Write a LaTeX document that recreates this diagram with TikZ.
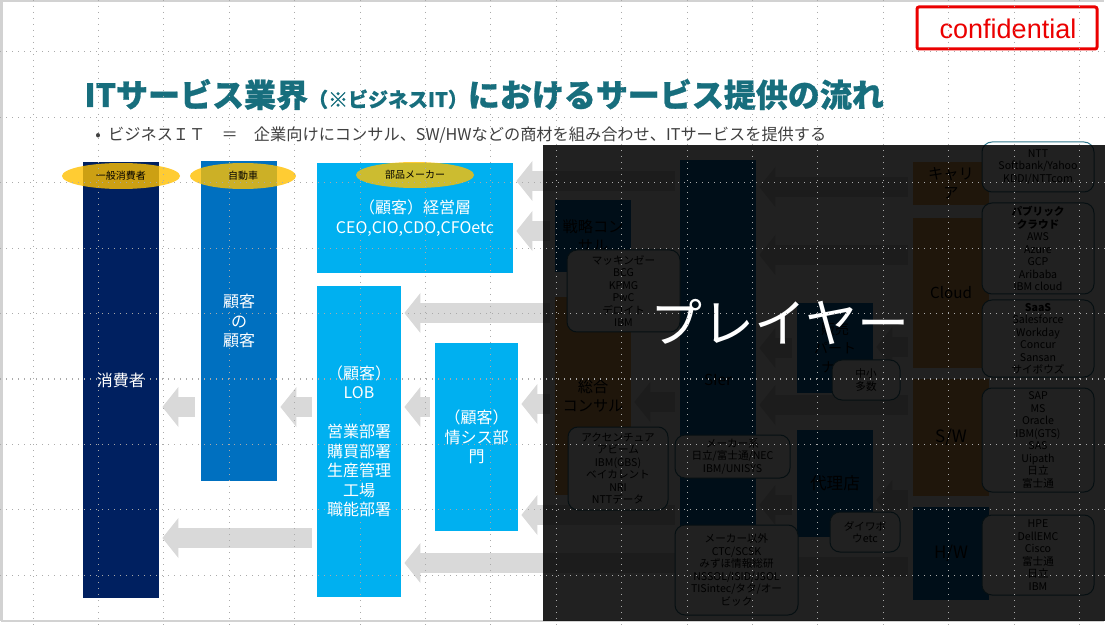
\documentclass[tikz,border=0pt]{standalone}
\usepackage{fontspec}
\setmainfont{Noto Sans CJK JP}
\newfontfamily\titlefont{Noto Sans CJK JP}[BoldFeatures={FakeBold=0.8}]
\newfontfamily\latinfont{Liberation Sans}
\usetikzlibrary{positioning, shapes.geometric, arrows.meta}

\definecolor{navy}{RGB}{0,32,96}
\definecolor{midblue}{RGB}{0,112,192}
\definecolor{skyblue}{RGB}{0,176,240}
\definecolor{gold}{RGB}{255,192,0}
\definecolor{tangerine}{RGB}{240,170,90}
\definecolor{titleteal}{RGB}{23,110,125}
\definecolor{arrowgray}{RGB}{217,217,217}
\definecolor{gridgray}{RGB}{170,170,170}
\definecolor{memoedge}{RGB}{50,120,140}
\definecolor{confred}{RGB}{235,0,0}

\tikzset{
  bar/.style={rectangle, inner sep=0pt, minimum width=38pt, align=center, text=white, font=\fontsize{8}{9.75}\selectfont},
  tag/.style={ellipse, fill=gold, fill opacity=0.8, text opacity=1, inner sep=0pt, minimum height=13pt, font=\fontsize{5}{6}\selectfont},
  lane/.style={rectangle, inner sep=0pt, minimum width=38pt, align=center, text=black, font=\fontsize{7.6}{9.5}\selectfont},
  memo/.style={draw=memoedge, line width=0.5pt, rounded corners=5pt, fill=white, inner sep=0pt, align=center, text=black, font=\fontsize{5.3}{6.25}\selectfont},
  flow/.style={draw=arrowgray, line width=10pt, -{Triangle[width=20pt, length=8pt, line width=0pt]}, shorten >=1.5pt, shorten <=2.5pt},
  grid line/.style={draw=gridgray, line width=0.5pt, dash pattern=on 0.5pt off 2.5pt}
}

\begin{document}
\begin{tikzpicture}[x=0.5pt, y=-0.5pt]

    \useasboundingbox (0,0) rectangle (1105,626);
    \fill[white] (0,0) rectangle (1105,626);
    \draw[gray!35, line width=1.5pt] (1,621) -- (1,1) -- (1104,1);
    \draw[gray!35, line width=1pt] (1,621) -- (1104,621);

    % title
    \node[anchor=base west, inner sep=0pt, text=titleteal, font=\titlefont\bfseries] (title) at (84,107)
        {\fontsize{16}{16}\selectfont ITサービス業界\fontsize{10}{10}\selectfont（※ビジネスIT）\fontsize{16}{16}\selectfont におけるサービス提供の流れ};
    \node[anchor=base west, inner sep=0pt, text=black!75, font=\fontsize{8.1}{9}\selectfont] (sub) at (95,141)
        {•\ \ ビジネスＩＴ　＝　企業向けにコンサル、SW/HWなどの商材を組み合わせ、ITサービスを提供する};

    \draw[confred, line width=1.5pt, rounded corners=1pt] (917,7) rectangle (1097,49);
    \node[text=confred, font=\latinfont\fontsize{13.5}{14}\selectfont] (conf) at (1008,29) {confidential};

    % customers
    \node[bar, fill=navy, minimum height=218pt] (consumer) at (121,380) {消費者};
    \node[bar, fill=midblue, minimum height=160pt] (endcust) at (239,321) {顧客\\の\\顧客};
    \node[bar, fill=skyblue, minimum width=98pt, minimum height=55pt] (keiei) at (415,218) {（顧客）経営層\\CEO,CIO,CDO,CFOetc};
    \node[bar, fill=skyblue, minimum width=42pt, minimum height=155.5pt] (lob) at (359,441.5)
        {（顧客）\\LOB\\[9.75pt]営業部署\\購買部署\\生産管理\\工場\\職能部署};
    \node[bar, fill=skyblue, minimum width=41.5pt, minimum height=94pt] (joshis) at (476.5,437) {（顧客）\\情シス部\\門};

    \node[tag, minimum width=59pt] (general) at (121,176) {一般消費者};
    \node[tag, minimum width=53pt] (auto) at (243,176) {自動車};
    \node[tag, minimum width=59pt] (parts) at (415,175) {部品メーカー};

    % players
    \node[lane, fill=midblue, minimum height=36pt] (senryaku) at (593,236) {戦略コン\\サル};
    \node[lane, fill=tangerine, minimum height=99pt] (sogo) at (593,396) {総合\\コンサル};
    \node[lane, fill=midblue, minimum height=220pt] (sier) at (718,380) {SIer};
    \node[lane, fill=midblue, minimum height=45pt, font=\fontsize{7}{9.5}\selectfont] (hanbai) at (835,348) {販売\\パート\\ナー};
    \node[lane, fill=midblue, minimum height=53.5pt, font=\fontsize{8.3}{9.5}\selectfont] (dairiten) at (835,483) {代理店};
    \node[lane, fill=tangerine, minimum height=21.5pt] (carrier) at (951,183.5) {キャリ\\ア};
    \node[lane, fill=tangerine, minimum height=75pt] (cloud) at (951,293) {Cloud};
    \node[lane, fill=tangerine, minimum height=58.5pt, font=\fontsize{8.5}{9.5}\selectfont] (sw) at (951,437) {S/W};
    \node[lane, fill=midblue, minimum height=46.5pt, font=\fontsize{8.5}{9.5}\selectfont] (hw) at (951,553) {H/W};

    % flows
    \draw[flow, shorten <=3pt] (endcust.west |- 0,407) -- (consumer.east |- 0,407);
    \draw[flow] (lob.west |- 0,407) -- (endcust.east |- 0,407);
    \draw[flow] (joshis.west |- 0,407) -- (lob.east |- 0,407);
    \draw[flow] (lob.west |- 0,538) -- (consumer.east |- 0,538);
    \draw[flow] (sier.west |- 0,181) -- (keiei.east |- 0,181);
    \draw[flow] (senryaku.west |- 0,231) -- (keiei.east |- 0,231);
    \draw[flow] (sogo.west |- 0,313) -- (lob.east |- 0,313);
    \draw[flow] (sogo.west |- 0,404) -- (joshis.east |- 0,404);
    \draw[flow] (sier.west |- 0,515) -- (joshis.east |- 0,515);
    \draw[flow] (sier.west |- 0,563) -- (lob.east |- 0,563);
    \draw[flow] (sier.west |- 0,402) -- (sogo.east |- 0,402);
    \draw[flow] (carrier.west |- 0,187) -- (sier.east |- 0,187);
    \draw[flow] (cloud.west |- 0,255) -- (sier.east |- 0,255);
    \draw[flow] (hanbai.west |- 0,348) -- (sier.east |- 0,348);
    \draw[flow] (cloud.west |- 0,347) -- (hanbai.east |- 0,347);
    \draw[flow] (sw.west |- 0,405) -- (sier.east |- 0,405);
    \draw[flow] (dairiten.west |- 0,505) -- (sier.east |- 0,505);
    \draw[flow] (sw.west |- 0,500) -- (dairiten.east |- 0,500);
    \draw[flow] (hw.west |- 0,567) -- (sier.east |- 0,567);

    % company lists
    \node[memo, minimum width=56.5pt, minimum height=41pt] (mck) at (623.5,291) {マッキンゼー\\BCG\\KPMG\\PwC\\デロイト\\IBM};
    \node[memo, minimum width=50pt, minimum height=41.5pt] (accn) at (618,468.5) {アクセンチュア\\アビーム\\IBM(GBS)\\ベイカレント\\NRI\\NTTデータ};
    \node[memo, minimum width=57.5pt, minimum height=21.5pt] (maker) at (732.5,456.5) {メーカー系\\日立/富士通/NEC\\IBM/UNISYS};
    \node[memo, minimum width=61.5pt, minimum height=45pt] (nonmaker) at (736.5,570) {メーカー以外\\CTC/SCSK\\みずほ情報総研\\NSSOL/ISID/JSOL\\TISintec/タタ/オー\\ビック};
    \node[memo, minimum width=34pt, minimum height=20pt] (chusho) at (866,380) {中小\\多数};
    \node[memo, minimum width=35pt, minimum height=20pt] (daiwa) at (865,532) {ダイワボ\\ウetc};
    \node[memo, minimum width=56pt, minimum height=25pt] (telco) at (1038,167) {NTT\\Softbank/Yahoo\\KDDI/NTTcom};
    \node[memo, minimum width=56pt, minimum height=45.5pt] (public) at (1038,248.5) {\textbf{パブリック}\\\textbf{クラウド}\\AWS\\Azure\\GCP\\Aribaba\\IBM cloud};
    \node[memo, minimum width=56pt, minimum height=38.5pt] (saas) at (1038,338.5) {\textbf{SaaS}\\Salesforce\\Workday\\Concur\\Sansan\\サイボウズ};
    \node[memo, minimum width=56pt, minimum height=52pt] (swlist) at (1038,440) {SAP\\MS\\Oracle\\IBM(GTS)\\SAS\\Uipath\\日立\\富士通};
    \node[memo, minimum width=56pt, minimum height=40pt] (hwlist) at (1038,555) {HPE\\DellEMC\\Cisco\\富士通\\日立\\IBM};

    % dark cover
    \fill[black, opacity=0.87] (543,145) rectangle (1105,621);
    \node[text=white, font=\fontsize{26}{28}\selectfont] (player) at (780,322) {プレイヤー};

    % guides
    \foreach \gx in {0,...,16}
        \draw[grid line] (33+65.4*\gx,0) -- (33+65.4*\gx,626);
    \foreach \gy in {0,...,8}
        \draw[grid line] (0,52+65.4*\gy) -- (1105,52+65.4*\gy);

\end{tikzpicture}
\end{document}
